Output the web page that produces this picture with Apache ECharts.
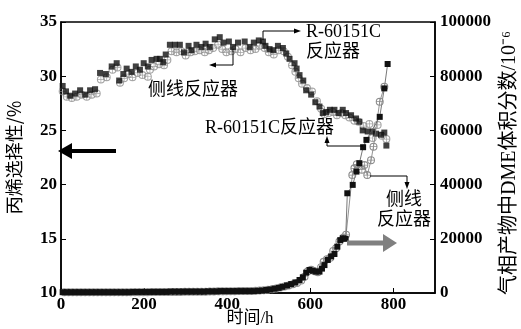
<!DOCTYPE html>
<html lang="zh">

<head>
    <meta charset="UTF-8">
    <title>丙烯选择性与DME</title>
    <style>
        html, body { margin: 0; padding: 0; background: #fff; }
    </style>
</head>

<body>
    <div id="main" style="width: 521px; height:329px"></div>
    <script src="https://cdn.jsdelivr.net/npm/echarts@6/dist/echarts.min.js"></script>
    <script type="text/javascript">
        // 丙烯选择性 (左轴), R-60151C反应器 — 实心方块
        var selR = [[4,29.1],[12,28.6],[22,28.2],[34,28.4],[46,28.7],[58,28.3],[70,28.7],[82,28.8],[94,30.3],[108,30.2],
            [122,30.9],[134,31.2],[140,29.6],[150,30.2],[158,30.7],[170,30.4],[180,30.9],[190,30.6],[199,31.2],[209,30.9],
            [218,31.5],[230,31.6],[238,31.6],[246,31.3],[252,32.0],[262,32.9],[274,32.9],[286,32.9],[296,32.2],[307,32.8],
            [314,32.4],[326,32.9],[338,32.7],[348,33.0],[358,32.7],[370,33.4],[382,33.6],[391,33.1],[404,33.2],[414,32.7],
            [426,33.1],[442,33.2],[454,32.7],[464,33.1],[476,33.3],[486,33.2],[492,32.8],[502,32.5],[511,32.4],[522,32.8],
            [534,32.6],[542,32.1],[550,31.6],[562,31.2],[567,30.7],[574,30.1],[583,29.6],[590,28.7],[602,28.3],[612,27.6],
            [622,27.2],[630,26.6],[638,26.7],[647,26.9],[658,26.9],[668,26.6],[678,26.9],[686,26.6],[698,26.4],[710,26.1],
            [718,25.8],[726,25.0],[738,24.9],[750,24.9],[758,24.7],[770,24.6],[778,24.8],[783,23.6]];
        // 丙烯选择性, 侧线反应器 — 空心圆
        var selS = [[4,28.6],[14,28.1],[26,28.0],[38,28.1],[50,28.3],[62,28.1],[74,28.3],[86,28.4],[96,29.7],[110,29.9],
            [124,30.6],[136,30.8],[142,29.4],[152,29.8],[162,30.2],[172,29.9],[184,30.3],[196,30.1],[209,29.95],[214,30.6],
            [224,30.9],[236,31.1],[248,31.0],[256,31.5],[266,32.3],[278,32.2],[290,32.3],[300,31.9],[312,32.2],[322,32.3],
            [334,32.4],[346,32.2],[356,32.4],[366,32.6],[378,32.9],[388,32.5],[398,32.2],[410,32.3],[420,32.5],[432,32.2],
            [444,32.6],[456,32.4],[468,32.5],[478,32.8],[490,32.6],[500,32.2],[512,32.0],[524,32.4],[536,32.3],[546,31.8],
            [556,31.0],[564,30.4],[572,29.8],[580,29.3],[592,28.9],[604,28.6],[616,27.7],[626,27.0],[634,26.5],[644,26.6],
            [654,26.7],[664,26.4],[674,26.6],[684,26.4],[694,26.2],[706,25.9],[716,25.8],[728,25.4],[742,25.6],[750,24.3],
            [762,25.5],[772,24.5],[783,24.2]];
        // 气相产物中DME (右轴), R-60151C反应器
        var dmeR = [[4,300],[14,300],[24,300],[34,300],[44,300],[54,300],[64,300],[74,300],[84,300],[94,300],
            [104,300],[114,300],[124,300],[134,300],[144,300],[154,300],[164,300],[174,400],[184,400],[194,400],
            [204,400],[214,400],[224,400],[234,400],[244,400],[254,400],[264,500],[274,500],[284,500],[294,500],
            [304,500],[314,500],[324,500],[334,500],[344,500],[354,600],[364,600],[374,600],[384,700],[394,700],
            [404,700],[414,700],[424,700],[434,700],[444,700],[454,700],[464,700],[474,800],[484,900],[494,1100],
            [504,1300],[514,1600],[524,1900],[533,2300],[544,2800],[554,3300],[564,3900],[574,4800],[582,5800],[590,7500],
            [598,8500],[606,8200],[614,7900],[622,7900],[628,9000],[634,10300],[642,12200],[650,13500],[658,14400],[665,17100],
            [672,19500],[678,20200],[685,20000],[689,36800],[702,39900],[711,44800],[718,47900],[727,53800],[735,56500],[767,65000],
            [778,75500],[786,84500]];
        // 气相产物中DME, 侧线反应器
        var dmeS = [[8,250],[18,250],[28,250],[38,250],[48,250],[58,250],[68,250],[78,250],[88,250],[98,250],
            [108,250],[118,250],[128,250],[138,250],[148,250],[158,250],[168,300],[178,300],[188,300],[198,300],
            [208,300],[218,350],[228,350],[238,350],[248,350],[258,400],[268,400],[278,400],[288,400],[298,450],
            [308,450],[318,450],[328,450],[338,500],[348,500],[358,550],[368,550],[378,600],[388,600],[398,650],
            [408,650],[418,650],[428,700],[438,700],[448,700],[458,750],[468,800],[478,900],[488,1000],[498,1200],
            [508,1400],[518,1700],[528,2000],[538,2400],[548,2800],[558,3200],[568,3700],[578,4600],[586,6000],[594,8000],
            [602,8600],[610,8000],[618,7700],[626,9500],[632,11500],[640,12500],[648,13000],[655,15500],[662,16500],[670,19000],
            [680,20500],[686,21500],[701,43500],[706,46000],[712,47500],[724,45500],[730,47200],[737,43500],[746,49000],[752,54000],
            [767,70600],[778,76100]];

        var yLeftTicks = [10, 35, 5];
        var yRightTicks = [0, 100000, 20000];
        var xTicks = [0, 900, 200];

        var numFont = 'Liberation Serif';
        var cjkFont = 'Noto Sans CJK SC';
        var crossCircle = 'path://M10,0A10,10,0,1,1,9.99,0ZM10,2.6A7.4,7.4,0,1,0,10.01,2.6ZM1,9.1L19,9.1L19,10.9L1,10.9ZM9.1,1L10.9,1L10.9,19L9.1,19Z';

        // 箭头注释 (像素坐标)
        function arrow(points, color, width, headLen, headHalf) {
            var n = points.length;
            var p = points[n - 1], q = points[n - 2];
            var dx = p[0] - q[0], dy = p[1] - q[1];
            var len = Math.sqrt(dx * dx + dy * dy);
            var ux = dx / len, uy = dy / len;
            var bx = p[0] - ux * headLen, by = p[1] - uy * headLen;
            var line = points.slice(0, n - 1).concat([[bx + ux, by + uy]]);
            return [{
                type: 'polyline', shape: { points: line },
                style: { stroke: color, lineWidth: width, fill: null }, z: 100
            }, {
                type: 'polygon',
                shape: { points: [p, [bx - uy * headHalf, by + ux * headHalf], [bx + uy * headHalf, by - ux * headHalf]] },
                style: { fill: color }, z: 100
            }];
        }

        function label(text, x, y, size, align, rotation) {
            return {
                type: 'text', x: x, y: y, z: 100, rotation: rotation || 0,
                style: {
                    text: text, fill: '#000', fontSize: size,
                    fontFamily: numFont + ', ' + cjkFont, align: align || 'left', verticalAlign: 'middle'
                }
            };
        }

        var graphics = [].concat(
            [label('侧线反应器', 148, 90, 18)],
            arrow([[233, 49], [233, 65], [209, 65]], '#000', 1, 7, 2.5),
            [label('R-60151C', 306, 32, 18), label('反应器', 306, 52, 18)],
            arrow([[263, 40], [263, 31], [301, 31]], '#000', 1, 7, 2.5),
            [label('R-60151C反应器', 205, 128, 18)],
            arrow([[363, 146], [327, 146], [327, 136]], '#000', 1, 7, 2.5),
            [label('侧线', 404, 200, 18, 'center'), label('反应器', 404, 220, 18, 'center')],
            arrow([[370, 176], [407, 176], [407, 189]], '#000', 1, 7, 2.5),
            arrow([[116, 151], [58, 151]], '#000', 4, 14, 8),
            arrow([[347, 243], [397, 243]], '#808080', 5, 14, 9),
            // 轴名称
            [label('时间/h', 250, 319, 17, 'center')],
            [label('气相产物中DME体积分数/10⁻⁶', 510, 163, 20, 'center', Math.PI / 2)]
        );

        var myChart = echarts.init(document.getElementById('main'));
        var axisLabelStyle = { color: '#000', fontFamily: numFont, fontWeight: 'bold', fontSize: 17 };
        var option = {
            animation: false,
            grid: {
                left: 61, right: 86, top: 22, bottom: 36, containLabel: false, outerBoundsMode: 'none',
                show: true, borderColor: '#000', borderWidth: 1.5
            },
            xAxis: {
                type: 'value', min: xTicks[0], max: xTicks[1], interval: xTicks[2],
                axisLine: { lineStyle: { color: '#000', width: 1.5 } },
                axisTick: { inside: true, length: 5, lineStyle: { color: '#000' } },
                axisLabel: Object.assign({ margin: 3, showMaxLabel: false }, axisLabelStyle),
                splitLine: { show: false }
            },
            yAxis: [{
                type: 'value', min: yLeftTicks[0], max: yLeftTicks[1], interval: yLeftTicks[2],
                name: '丙烯选择性/%', nameLocation: 'middle', nameGap: 38, nameRotate: 90,
                nameTextStyle: { color: '#000', fontFamily: cjkFont, fontSize: 18 },
                axisLine: { show: true, lineStyle: { color: '#000', width: 1.5 } },
                axisTick: { show: true, inside: true, length: 5, lineStyle: { color: '#000' } },
                axisLabel: Object.assign({ margin: 4 }, axisLabelStyle),
                splitLine: { show: false }
            }, {
                type: 'value', min: yRightTicks[0], max: yRightTicks[1], interval: yRightTicks[2],
                position: 'right',
                axisLine: { show: true, lineStyle: { color: '#000', width: 1.5 } },
                axisTick: { show: true, inside: true, length: 5, lineStyle: { color: '#000' } },
                axisLabel: Object.assign({ margin: 5, formatter: function (v) { return String(v); } }, axisLabelStyle),
                splitLine: { show: false }
            }],
            series: [{
                name: '侧线反应器选择性', type: 'scatter', yAxisIndex: 0, data: selS,
                symbol: crossCircle, symbolSize: 8, itemStyle: { color: '#8c8c8c' }
            }, {
                name: 'R-60151C选择性', type: 'scatter', yAxisIndex: 0, data: selR,
                symbol: 'rect', symbolSize: 6, itemStyle: { color: '#111' }
            }, {
                name: '侧线反应器DME', type: 'line', yAxisIndex: 1, data: dmeS,
                symbol: crossCircle, symbolSize: 8, showAllSymbol: true,
                lineStyle: { color: '#777', width: 0.8 }, itemStyle: { color: '#8c8c8c' }
            }, {
                name: 'R-60151C DME', type: 'line', yAxisIndex: 1, data: dmeR,
                symbol: 'rect', symbolSize: 6, showAllSymbol: true,
                lineStyle: { color: '#555', width: 0.8 }, itemStyle: { color: '#111' }
            }],
            graphic: graphics
        };
        myChart.setOption(option);
    </script>

</body>

</html>
